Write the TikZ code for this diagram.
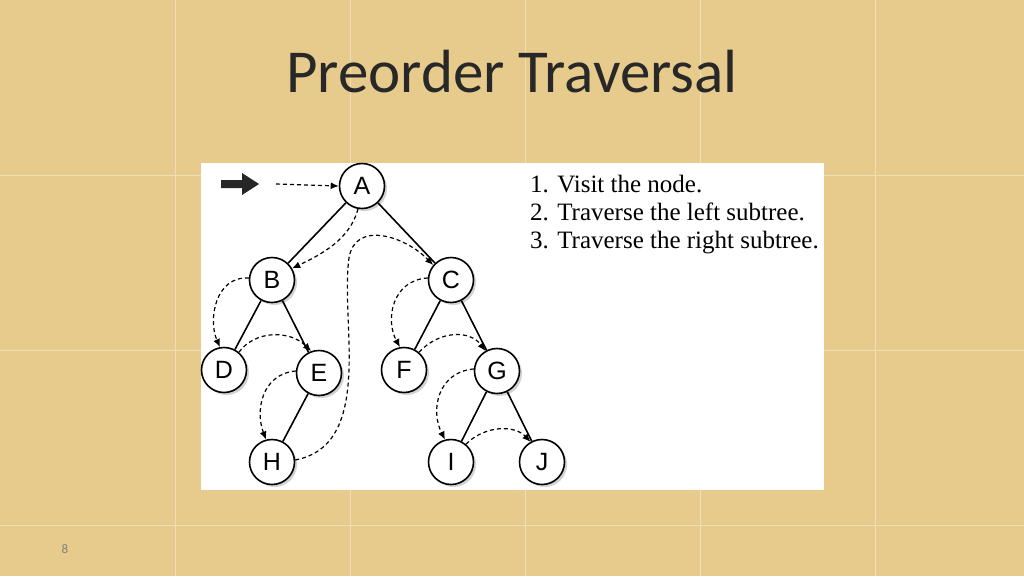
\documentclass[tikz,border=0pt]{standalone}
\usepackage{fontspec}
\setmainfont{Liberation Serif}
\newfontfamily\titlefont{Carlito}
\newfontfamily\nodefont{Liberation Sans}
\usetikzlibrary{shadows,arrows.meta}
\definecolor{paper}{RGB}{230,203,140}
\definecolor{gridline}{RGB}{240,222,180}
\definecolor{titleink}{RGB}{40,40,40}
\tikzset{
  treenode/.style={circle, draw, line width=1.6pt, fill=white, minimum size=45pt, inner sep=0pt,
    font=\nodefont\fontsize{25}{25}\selectfont,
    drop shadow={shadow xshift=2.5pt, shadow yshift=-2.5pt, fill=gray!70}},
  edge/.style={line width=1.6pt},
  walk/.style={line width=1.2pt, dash pattern=on 4pt off 3pt, -{Latex[length=8pt,width=7pt]}}
}
\begin{document}
\begin{tikzpicture}[x=1pt,y=-1pt]
  \fill[paper] (0,0) rectangle (1024,576);
  \useasboundingbox (0,0) rectangle (1024,576);
  \foreach \gx in {175,350,525,700,875} \draw[gridline, line width=1pt] (\gx,0) -- (\gx,576);
  \foreach \gy in {175,350,525} \draw[gridline, line width=1pt] (0,\gy) -- (1024,\gy);
  \node[text=titleink] (title) at (512,72) {\titlefont\fontsize{61}{61}\selectfont Preorder Traversal};
  \node[text=gray] (page) at (65,549) {\titlefont\fontsize{13}{13}\selectfont 8};
  \fill[white] (201,163) rectangle (824,490);
  % tree edges
  \node[treenode] (A) at (362,186) {A};
  \node[treenode] (B) at (272,280) {B};
  \node[treenode] (C) at (451,280) {C};
  \node[treenode] (D) at (224,370) {D};
  \node[treenode] (E) at (319,373) {E};
  \node[treenode] (F) at (404,370) {F};
  \node[treenode] (G) at (497,371) {G};
  \node[treenode] (H) at (272,462) {H};
  \node[treenode] (I) at (451,462) {I};
  \node[treenode] (J) at (542,462) {J};
  \draw[edge] (A) -- (B);
  \draw[edge] (A) -- (C);
  \draw[edge] (B) -- (D);
  \draw[edge] (B) -- (E);
  \draw[edge] (E) -- (H);
  \draw[edge] (C) -- (F);
  \draw[edge] (C) -- (G);
  \draw[edge] (G) -- (I);
  \draw[edge] (G) -- (J);
  % traversal order
  \fill[gray!30!black] (221,180) -- (242,180) -- (242,173) -- (259,184) -- (242,195) -- (242,188) -- (221,188) -- cycle;
  \coordinate (start) at (276,184);
  \draw[walk] (start) -- (A.west);
  \draw[walk] (A.-100) .. controls (350,240) and (320,255) .. (B.30);
  \draw[walk] (B.175) .. controls (215,276) and (208,320) .. (D.100);
  \draw[walk] (D.50) .. controls (255,330) and (290,330) .. (E.110);
  \draw[walk] (E.175) .. controls (262,374) and (255,410) .. (H.105);
  \draw[walk] (H.5) .. controls (375,445) and (340,320) .. (349,258)
    .. controls (355,220) and (405,236) .. (C.140);
  \draw[walk] (C.175) .. controls (392,280) and (385,320) .. (F.100);
  \draw[walk] (F.50) .. controls (440,330) and (470,330) .. (G.120);
  \draw[walk] (G.175) .. controls (438,372) and (430,410) .. (I.105);
  \draw[walk] (I.50) .. controls (485,425) and (515,425) .. (J.120);
  \node[anchor=north west, align=left, inner sep=0pt, font=\fontsize{25}{28}\selectfont] (steps) at (530,175)
    {1. Visit the node.\\2. Traverse the left subtree.\\3. Traverse the right subtree.};
\end{tikzpicture}
\end{document}
